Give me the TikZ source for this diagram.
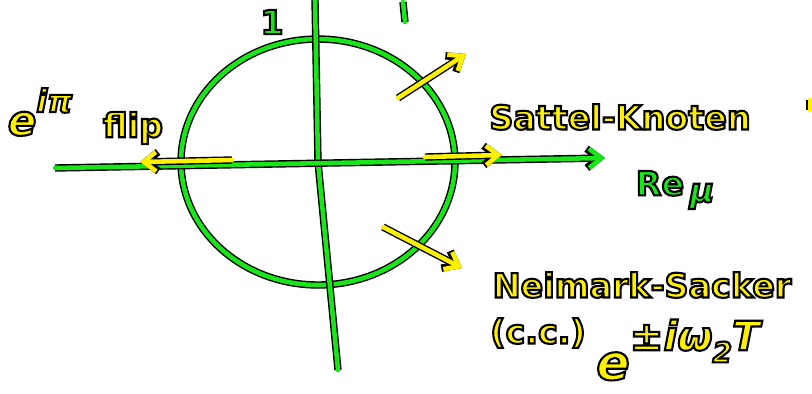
\documentclass[tikz,border=0pt]{standalone}
\usepackage{fontspec}
\setsansfont{DejaVu Sans}
\usetikzlibrary{arrows.meta}
\definecolor{pengreen}{RGB}{25,230,25}
\definecolor{penyellow}{RGB}{255,240,0}
\newcommand\outl[1]{\special{pdf:literal direct 2 Tr 1.2 w 0 0 0 RG}#1\special{pdf:literal direct 0 Tr}}
\begin{document}
\begin{tikzpicture}[x=0.02cm,y=-0.02cm,
  ink/.style={line width=2.6pt,line cap=round,line join=round,preaction={draw=black,line width=4.2pt}},
  green ink/.style={ink,draw=pengreen},
  yellow ink/.style={ink,draw=penyellow},
  tip/.style={-{Straight Barb[length=7pt,width=11pt]}},
  every node/.style={font=\sffamily\bfseries\fontsize{19}{21}\selectfont,inner sep=1pt}]
\useasboundingbox (0,0) rectangle (812,393);
\coordinate (west) at (55,168);
\coordinate (east) at (605,158);
\coordinate (north) at (315,0);
\coordinate (south) at (338,370);
\coordinate (origin) at (318,162);
\draw[green ink] (origin) ellipse [x radius=2.74cm,y radius=2.46cm];
\draw[green ink] (north) -- (origin) -- (south);
\draw[green ink,tip] (west) -- (east);
\draw[green ink] (403,2) -- (405,22);
\draw[yellow ink] (810,100) -- (810,110);
\node[text=pengreen] (one) at (272,22) {\outl{1}};
\node[text=pengreen] (re) at (675,190) {\outl{Re\,\raisebox{-0.2em}{\itshape μ}}};
\node[text=penyellow,font=\sffamily\bfseries\fontsize{24}{26}\selectfont] (eipi) at (40,112)
  {\outl{\itshape e\raisebox{0.55em}{\fontsize{18}{18}\selectfont iπ}}};
\node[text=penyellow] (flip) at (133,128) {\outl{flip}};
\node[text=penyellow] (saddle) at (620,117) {\outl{Sattel-Knoten}};
\node[text=penyellow] (ns) at (642,285) {\outl{Neimark-Sacker}};
\node[text=penyellow] (cc) at (538,333) {\outl{(c.c.)}};
\node[text=penyellow,font=\sffamily\bfseries\fontsize{28}{30}\selectfont] (ns exp) at (678,350)
  {\outl{\itshape e\raisebox{0.6em}{\fontsize{23}{23}\selectfont ±iω\raisebox{-0.3em}{\fontsize{16}{16}\selectfont 2}T}}};
\coordinate (flip start) at (232,160);
\coordinate (flip end) at (140,162);
\coordinate (sn start) at (425,157);
\coordinate (sn end) at (502,155);
\coordinate (up start) at (398,98);
\coordinate (up end) at (466,54);
\coordinate (down start) at (383,227);
\coordinate (down end) at (462,268);
\draw[yellow ink,tip] (flip start) -- (flip end);
\draw[yellow ink,tip] (sn start) -- (sn end);
\draw[yellow ink,tip] (up start) -- (up end);
\draw[yellow ink,tip] (down start) -- (down end);
\end{tikzpicture}
\end{document}
